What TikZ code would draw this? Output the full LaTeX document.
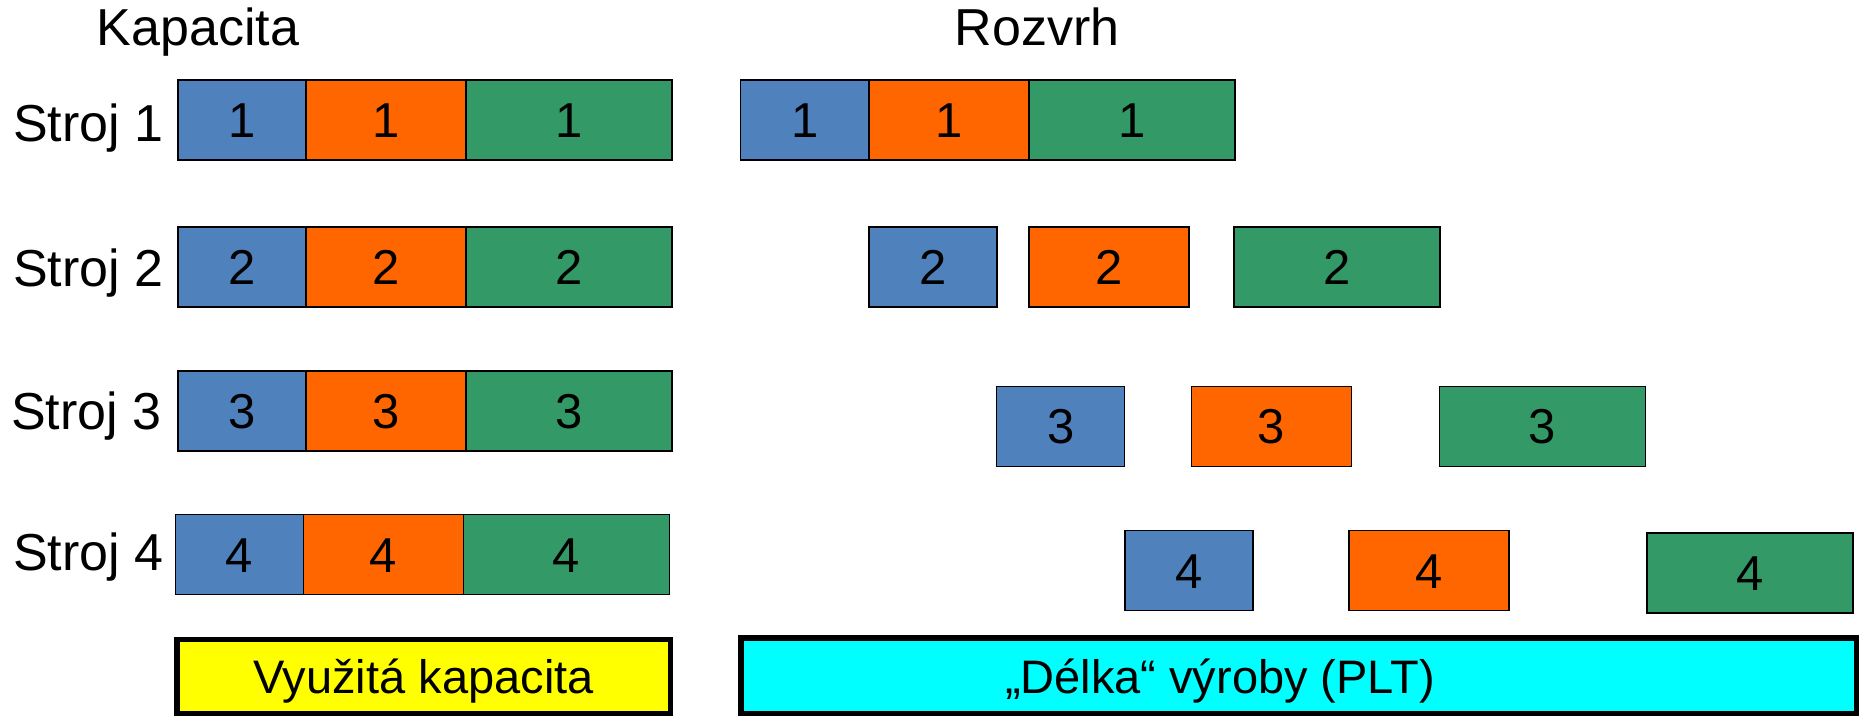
\documentclass[tikz,border=0pt]{standalone}
\usepackage{fontspec}
\setmainfont{Liberation Sans}
\definecolor{jobblue}{HTML}{4F81BD}
\definecolor{joborange}{HTML}{FF6600}
\definecolor{jobgreen}{HTML}{339966}
\definecolor{usedfill}{HTML}{FFFF00}
\definecolor{pltfill}{HTML}{00FFFF}
\begin{document}
\begin{tikzpicture}[x=1pt,y=-1pt,
  cell/.style={draw=black,line width=1.5pt,inner sep=0pt,minimum height=80pt,
    text height=35pt,text depth=0pt,font=\fontsize{49}{56}\selectfont},
  wb/.style={cell,fill=jobblue,minimum width=128pt},
  wo/.style={cell,fill=joborange,minimum width=160pt},
  wg/.style={cell,fill=jobgreen,minimum width=206pt},
  title/.style={font=\fontsize{52}{60}\selectfont,anchor=base,inner sep=0pt},
  machine/.style={font=\fontsize{52}{60}\selectfont,anchor=base west,inner sep=0pt},
  summary/.style={draw=black,line width=5.5pt,inner sep=0pt},
  sumtext/.style={font=\fontsize{47}{54}\selectfont,text height=33.6pt,text depth=0pt,inner sep=0pt}]
\useasboundingbox (0,0) rectangle (1859,716);

% headings
\node[title] (kap) at (198,45.7) {Kapacita};
\node[title] (roz) at (1037,45.7) {Rozvrh};

% machine labels
\node[machine] (m1) at (13,141.7) {Stroj 1};
\node[machine] (m2) at (13,286) {Stroj 2};
\node[machine] (m3) at (11,429) {Stroj 3};
\node[machine] (m4) at (13,570.7) {Stroj 4};

% capacity: operations packed back to back
\node[wb] (c1b) at (242,120) {1};
\node[wo] (c1o) at (386,120) {1};
\node[wg] (c1g) at (569,120) {1};
\node[wb] (c2b) at (242,267) {2};
\node[wo] (c2o) at (386,267) {2};
\node[wg] (c2g) at (569,267) {2};
\node[wb] (c3b) at (242,411) {3};
\node[wo] (c3o) at (386,411) {3};
\node[wg] (c3g) at (569,411) {3};
\node[wb] (c4b) at (239.5,554.5) {4};
\node[wo] (c4o) at (383.5,554.5) {4};
\node[wg] (c4g) at (566.5,554.5) {4};

% schedule: operations shifted in time
\node[wb] (s1b) at (804.7,120) {1};
\node[wo] (s1o) at (948.9,120) {1};
\node[wg] (s1g) at (1131.9,120) {1};
\node[wb] (s2b) at (933,267) {2};
\node[wo] (s2o) at (1109.2,267) {2};
\node[wg] (s2g) at (1336.9,267) {2};
\node[wb] (s3b) at (1060.7,426.3) {3};
\node[wo] (s3o) at (1271.4,426.3) {3};
\node[wg] (s3g) at (1542.4,426.3) {3};
\node[wb] (s4b) at (1188.8,570.5) {4};
\node[wo] (s4o) at (1429,570.5) {4};
\node[wg] (s4g) at (1750,573.2) {4};

% summary bars
\node[summary,fill=usedfill,sumtext,minimum width=493.5pt,minimum height=73.8pt] (used) at (423.5,676.35) {Využitá kapacita};
\node[summary,fill=pltfill,minimum width=1115.1pt,minimum height=75.5pt] (plt) at (1298.7,675.5) {};
\node[sumtext] (plttext) at (1220,676.6) {„Délka“ výroby (PLT)};
\end{tikzpicture}
\end{document}
